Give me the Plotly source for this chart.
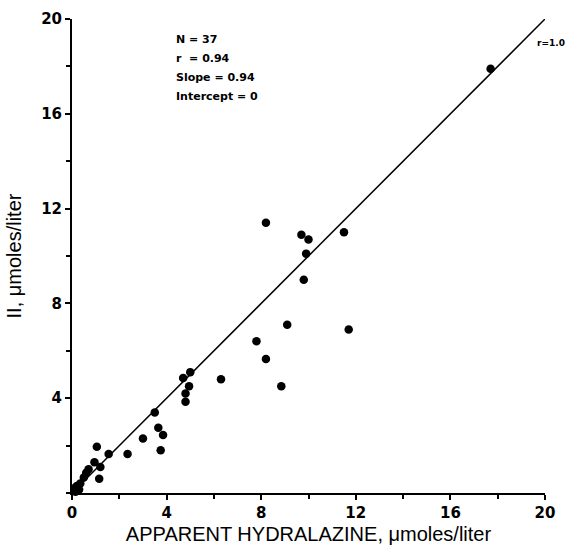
import plotly.graph_objects as go

# Data
apparent_hydralazine = [17.7, 8.2, 9.7, 10.0, 9.9, 11.5, 9.8, 9.1, 11.7, 7.8, 8.2,
                        5.0, 4.7, 4.95, 4.8, 4.8, 6.3, 8.85, 3.5, 3.65, 3.85, 3.75,
                        3.0, 2.35, 1.05, 1.55, 0.95, 1.2, 0.7, 1.15,
                        0.6, 0.5, 0.35, 0.2, 0.3, 0.1, 0.15]
ii_values = [17.9, 11.4, 10.9, 10.7, 10.1, 11.0, 9.0, 7.1, 6.9, 6.4, 5.65,
             5.1, 4.85, 4.5, 4.2, 3.85, 4.8, 4.5, 3.4, 2.75, 2.45, 1.8,
             2.3, 1.65, 1.95, 1.65, 1.3, 1.1, 1.0, 0.6,
             0.85, 0.65, 0.4, 0.3, 0.15, 0.2, 0.05]
identity_x = [0, 20]
identity_y = [0, 20]
x_ticks = [0, 4, 8, 12, 16, 20]
y_ticks = [4, 8, 12, 16, 20]
stats_lines = ["N = 37", "r  = 0.94", "Slope = 0.94", "Intercept = 0"]
line_label = "r=1.0"

fig = go.Figure()
fig.add_trace(go.Scatter(x=identity_x, y=identity_y, mode="lines",
                         line=dict(color="black", width=1.5), cliponaxis=False,
                         showlegend=False, hoverinfo="skip"))
fig.add_trace(go.Scatter(x=apparent_hydralazine, y=ii_values, mode="markers",
                         marker=dict(color="black", size=8.5), cliponaxis=False,
                         showlegend=False))

for i, line in enumerate(stats_lines):
    fig.add_annotation(x=0, y=1, xref="paper", yref="paper", xanchor="left", yanchor="middle",
                       xshift=102, yshift=-20 - 19 * i, align="left", showarrow=False,
                       text=line,
                       font=dict(family="DejaVu Sans", size=11, color="black", weight="bold"))
fig.add_annotation(x=20, y=19, xref="x", yref="y", xanchor="left", yanchor="middle",
                   xshift=-10, showarrow=False, text=line_label,
                   font=dict(family="DejaVu Sans", size=9, color="black", weight="bold"))

axis_common = dict(range=[0, 20], showgrid=False, zeroline=False, showline=True,
                   linecolor="black", linewidth=2, ticks="outside", tickcolor="black",
                   ticklen=5, tickwidth=1.5, automargin=False,
                   tickfont=dict(family="DejaVu Sans", size=15, color="black", weight="bold"),
                   minor=dict(dtick=2, tick0=0, ticks="outside", ticklen=4,
                              tickcolor="black", tickwidth=1.5))

fig.update_xaxes(**axis_common, tickvals=x_ticks, ticktext=[str(v) for v in x_ticks],
                 title=dict(text="APPARENT HYDRALAZINE, \u03bcmoles/liter", standoff=10,
                            font=dict(family="Liberation Sans", size=20, color="black")))
fig.update_yaxes(**axis_common, tickvals=y_ticks, ticktext=[str(v) for v in y_ticks],
                 title=dict(text="II, \u03bcmoles/liter", standoff=14,
                            font=dict(family="Liberation Sans", size=20, color="black")))

fig.update_layout(width=570, height=545, margin=dict(l=72, r=25, t=19, b=52),
                  plot_bgcolor="white", paper_bgcolor="white")

fig.write_html("out.html")
